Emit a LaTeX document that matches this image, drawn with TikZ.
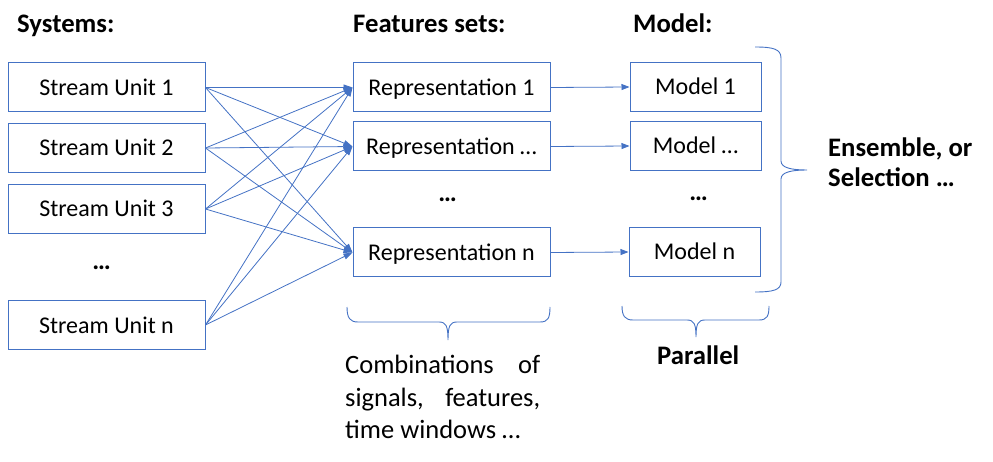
\documentclass[tikz,border=0pt]{standalone}
\usepackage{fontspec}
\setmainfont{Carlito}
\usetikzlibrary{arrows.meta}
\definecolor{obl}{HTML}{4472C4}
\begin{document}
\begin{tikzpicture}[x=1pt,y=-1pt,
  box/.style={draw=obl,line width=1pt,minimum width=#1,minimum height=49pt,inner sep=0pt,
    text height=19pt,text depth=3pt,
    font=\fontsize{24}{28}\selectfont,text=black},
  title/.style={anchor=base west,inner sep=0pt,font=\fontsize{26.7}{32}\selectfont\bfseries},
  dots/.style={inner sep=0pt,font=\fontsize{26}{30}\selectfont\bfseries},
  plain/.style={anchor=base west,inner sep=0pt,font=\fontsize{26.5}{32}\selectfont},
  conn/.style={draw=obl,line width=0.8pt,-{Triangle[length=9pt,width=6pt]}},
  brc/.style={draw=obl,line width=0.9pt}]
\useasboundingbox (0,0) rectangle (993,462);

% titles
\node[title] (t1) at (17,33) {Systems:};
\node[title] (t2) at (353,33) {Features sets:};
\node[title] (t3) at (633,33) {Model:};

% stream units
\node[box=197pt] (su1) at (106.5,87.5) {Stream Unit 1};
\node[box=197pt] (su2) at (106.5,148) {Stream Unit 2};
\node[box=197pt] (su3) at (106.5,209) {Stream Unit 3};
\node[dots] (sud) at (101.5,268) {…};
\node[box=197pt] (sun) at (106.5,325) {Stream Unit n};

% representations
\node[box=197pt] (r1) at (451.5,87.5) {Representation 1};
\node[box=197pt] (r2) at (451.5,146.5) {Representation …};
\node[dots] (rd) at (447.5,200) {…};
\node[box=197pt] (rn) at (451.5,252.5) {Representation n};

% models
\node[box=131pt] (m1) at (695.5,87) {Model 1};
\node[box=131pt] (m2) at (695.5,146) {Model …};
\node[dots] (md) at (698.5,199) {…};
\node[box=131pt] (mn) at (694.5,252) {Model n};

% stream -> representation
\foreach \s in {su1,su2,su3,sun}
  \foreach \r in {r1,r2,rn}
    \draw[conn] (\s.east) -- (\r.west);

% representation -> model
\draw[conn,-{Triangle[length=8pt,width=6pt]}] (r1.east) -- (m1.west);
\draw[conn,-{Triangle[length=8pt,width=6pt]}] (r2.east) -- (m2.west);
\draw[conn,-{Triangle[length=8pt,width=6pt]}] (rn.east) -- (mn.west);

% right brace
\draw[brc] (755,47) .. controls (773,47) and (781,49) .. (781,58) -- (781,161)
  .. controls (781,168) and (792,170) .. (807,170)
  .. controls (792,170) and (781,172) .. (781,179) -- (781,282)
  .. controls (781,290) and (773,292) .. (755,292);
\node[title] (ens) at (828,157) {Ensemble, or};
\node[title] (sel) at (828,187) {Selection …};

% bottom braces
\draw[brc] (347,307) .. controls (347,318) and (350,322) .. (358,322) -- (439,322)
  .. controls (446,322) and (448,326) .. (448,340)
  .. controls (448,326) and (450,322) .. (457,322) -- (540,322)
  .. controls (548,322) and (550,318) .. (550,307);
\draw[brc] (622,306) .. controls (622,316) and (625,320) .. (633,320) -- (687,320)
  .. controls (694,320) and (696,324) .. (696,337)
  .. controls (696,324) and (698,320) .. (705,320) -- (759,320)
  .. controls (767,320) and (769,316) .. (769,306);

% captions
\node[plain] (c1) at (345,373) {\makebox[195pt][s]{Combinations of}};
\node[plain] (c2) at (345,406) {\makebox[195pt][s]{signals, features,}};
\node[plain] (c3) at (345,438) {time windows …};
\node[title] (par) at (657,364) {Parallel};
\end{tikzpicture}
\end{document}
